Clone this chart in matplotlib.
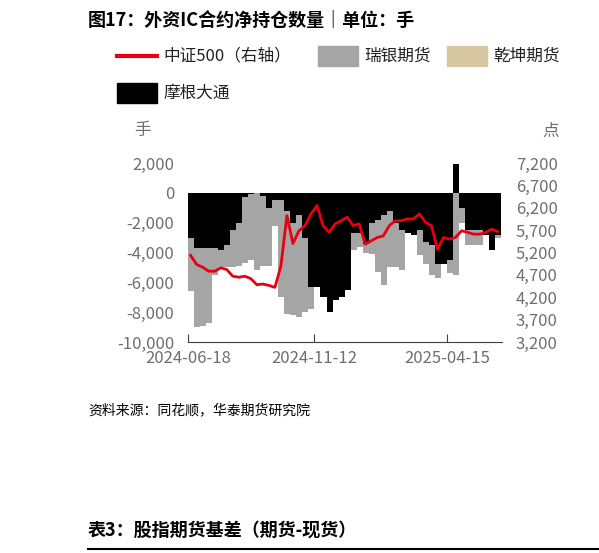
import matplotlib
matplotlib.use("Agg")
import matplotlib.pyplot as plt
import numpy as np
import pandas as pd
from matplotlib.patches import Rectangle
from matplotlib.lines import Line2D

plt.rcParams['font.family'] = ['Noto Sans CJK SC', 'DejaVu Sans']

dates = pd.date_range("2024-06-18", periods=52, freq="7D")
jpm = [-3000,-3700,-3700,-3700,-3700,-3800,-3500,-2500,-2000,-300,-100,0,-200,-1000,-500,-500,
       -1200,-2000,-1500,-3000,-6300,-6300,-7000,-8000,-7200,-7000,-6500,-2700,-2700,-3400,-2000,-1800,
       -1500,-1200,-2000,-2500,-2700,-2800,-2500,-3300,-3500,-4800,-4800,-4500,1900,-1000,-2500,-2500,
       -2500,-2800,-3800,-2800]
ubs = [-3600,-5300,-5200,-5000,-1800,-1200,-1500,-2500,-2900,-4400,-4400,-5200,-4700,-3900,-1700,-6500,
       -6900,-6200,-6800,-5000,-1500,0,0,0,0,0,0,-1100,-900,-600,-2100,-3500,
       -4700,-3800,-3000,-2700,0,0,-1700,-1500,-2000,-900,0,-900,-5500,-1000,-1000,-1000,
       -1000,0,0,-200]
qk = [0]*52
csi500 = [5136,4933,4872,4782,4782,4857,4820,4670,4647,4670,4616,4480,4495,4466,4420,4900,
          6025,5400,5686,5800,6063,6250,5800,5650,5840,5910,5990,5800,5840,5385,5460,5535,
          5570,5800,5910,5910,5950,5950,6063,5875,5800,5270,5535,5500,5535,5686,5650,5610,
          5610,5650,5720,5670]

fig = plt.figure(figsize=(5.99,5.53), dpi=100)
ax = fig.add_axes([188/599, 1-342/553, 314/599, 179/553])
j = np.array(jpm); u = np.array(ubs)
bottom = np.where(np.sign(j) == np.sign(u), j, 0)
w = 7.0
ax.bar(dates, j, width=w, color="#000000", align="edge", linewidth=0)
ax.bar(dates, u, width=w, bottom=bottom, color="#a5a5a5", align="edge", linewidth=0)
ax.bar(dates, qk, width=w, color="#d6c7a1", align="edge", linewidth=0)
ax.set_ylim(-10000, 2000)
ax.set_yticks(np.arange(-10000, 2001, 2000))
ax.set_yticklabels([f"{v:,}" for v in range(-10000, 2001, 2000)])
ax.set_xlim(pd.Timestamp("2024-06-18"), pd.Timestamp("2025-06-18"))
ticks = [pd.Timestamp("2024-06-18"), pd.Timestamp("2024-11-12"), pd.Timestamp("2025-04-15")]
ax.set_xticks(ticks)
ax.set_xticklabels([t.strftime("%Y-%m-%d") for t in ticks])
for s in ["top", "right", "left"]:
    ax.spines[s].set_visible(False)
ax.spines["bottom"].set_color("#404040")
ax.tick_params(axis="y", length=0, labelcolor="#6f6f6f", labelsize=12, pad=10)
ax.tick_params(axis="x", direction="in", length=6, color="#404040", labelcolor="#6f6f6f", labelsize=12, pad=6)

ax2 = ax.twinx()
ax2.plot(dates + pd.Timedelta(days=3), csi500, color="#e60012", lw=2)
ax2.set_ylim(3200, 7200)
ax2.set_yticks(range(3200, 7201, 500))
ax2.set_yticklabels([f"{v:,}" for v in range(3200, 7201, 500)])
for s in ["top", "right", "left", "bottom"]:
    ax2.spines[s].set_visible(False)
ax2.tick_params(axis="y", length=0, labelcolor="#6f6f6f", labelsize=12, pad=10)

fig.text(88/599, 1-20/553, "图17：外资IC合约净持仓数量｜单位：手", fontsize=13, fontweight="bold", va="center")
def patch(x, y, c, label, line=False):
    if line:
        fig.add_artist(Line2D([x/599, (x+40)/599], [1-y/553]*2, color=c, lw=3))
    else:
        fig.add_artist(Rectangle((x/599, 1-(y+10)/553), 40/599, 20/553, color=c))
    fig.text((x+46)/599, 1-y/553, label, fontsize=12, va="center", color="#222222")
patch(117, 56, "#e60012", "中证500（右轴）", line=True)
patch(318, 56, "#a5a5a5", "瑞银期货")
patch(447, 56, "#d6c7a1", "乾坤期货")
patch(117, 93, "#000000", "摩根大通")
fig.text(134/599, 1-131/553, "手", fontsize=12, color="#6f6f6f", va="center")
fig.text(542/599, 1-131/553, "点", fontsize=12, color="#6f6f6f", va="center")
fig.text(88/599, 1-410/553, "资料来源：同花顺，华泰期货研究院", fontsize=10, style="italic", va="center")
fig.text(88/599, 1-530/553, "表3：股指期货基差（期货-现货）", fontsize=13, fontweight="bold", va="center")
fig.add_artist(Line2D([88/599, 1], [1-549/553]*2, color="black", lw=1.5))
fig.savefig("out.png", dpi=100)
